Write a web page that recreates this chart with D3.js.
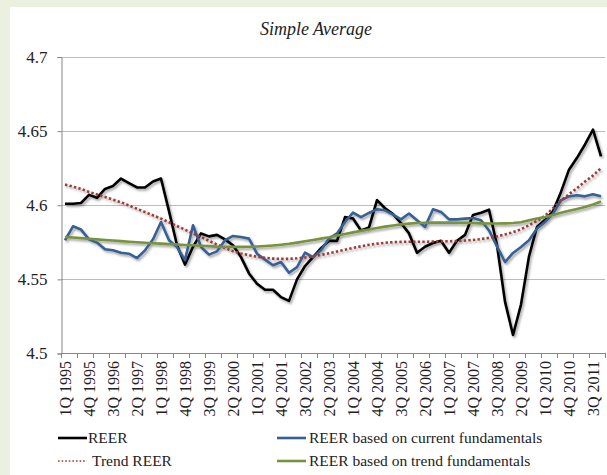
<!DOCTYPE html>
<html>
<head>
<meta charset="utf-8">
<script src="https://cdn.jsdelivr.net/npm/d3@7/dist/d3.min.js"></script>
</head>
<body style="margin:0;background:#ebf1de">
<script>
var quarters = [
	'1Q 1995','2Q 1995','3Q 1995','4Q 1995','1Q 1996','2Q 1996','3Q 1996','4Q 1996',
	'1Q 1997','2Q 1997','3Q 1997','4Q 1997','1Q 1998','2Q 1998','3Q 1998','4Q 1998',
	'1Q 1999','2Q 1999','3Q 1999','4Q 1999','1Q 2000','2Q 2000','3Q 2000','4Q 2000',
	'1Q 2001','2Q 2001','3Q 2001','4Q 2001','1Q 2002','2Q 2002','3Q 2002','4Q 2002',
	'1Q 2003','2Q 2003','3Q 2003','4Q 2003','1Q 2004','2Q 2004','3Q 2004','4Q 2004',
	'1Q 2005','2Q 2005','3Q 2005','4Q 2005','1Q 2006','2Q 2006','3Q 2006','4Q 2006',
	'1Q 2007','2Q 2007','3Q 2007','4Q 2007','1Q 2008','2Q 2008','3Q 2008','4Q 2008',
	'1Q 2009','2Q 2009','3Q 2009','4Q 2009','1Q 2010','2Q 2010','3Q 2010','4Q 2010',
	'1Q 2011','2Q 2011','3Q 2011','4Q 2011'];

var reer = [
	4.601,4.601,4.6015,4.607,4.605,4.611,4.613,4.618,
	4.615,4.612,4.612,4.616,4.618,4.596,4.573,4.560,
	4.572,4.581,4.579,4.580,4.577,4.573,4.565,4.554,
	4.547,4.543,4.543,4.538,4.5355,4.550,4.559,4.565,
	4.571,4.576,4.576,4.592,4.591,4.583,4.585,4.6035,
	4.598,4.594,4.588,4.581,4.568,4.572,4.5745,4.576,
	4.568,4.576,4.580,4.5935,4.595,4.597,4.573,4.535,
	4.5125,4.533,4.5655,4.5855,4.590,4.596,4.609,4.624,
	4.632,4.641,4.651,4.633];

var reerCurrent = [
	4.5764,4.5858,4.5836,4.577,4.5748,4.5703,4.5696,4.568,
	4.5673,4.5644,4.5696,4.577,4.5887,4.5764,4.5718,4.563,
	4.5865,4.5718,4.5667,4.5689,4.5764,4.5793,4.5786,4.5775,
	4.5673,4.5633,4.5595,4.5617,4.5545,4.5583,4.568,4.565,
	4.5696,4.5775,4.581,4.5887,4.595,4.592,4.5948,4.5973,
	4.5966,4.5937,4.5905,4.5944,4.5899,4.5854,4.5973,4.5955,
	4.5905,4.5905,4.591,4.5914,4.5899,4.583,4.5723,4.5617,
	4.5678,4.5718,4.5764,4.5843,4.5887,4.5944,4.6034,4.606,
	4.6068,4.606,4.6074,4.606];

var trendReer = [
	4.614,4.6125,4.611,4.609,4.6073,4.6056,4.6038,4.602,
	4.5998,4.5976,4.5954,4.5932,4.591,4.5885,4.586,4.5835,
	4.581,4.5786,4.576,4.5735,4.5712,4.569,4.5675,4.5663,
	4.5653,4.5645,4.564,4.5638,4.5638,4.5642,4.5648,4.5656,
	4.5665,4.5676,4.5688,4.570,4.5712,4.5723,4.5733,4.5741,
	4.5747,4.5751,4.5753,4.5754,4.5754,4.5754,4.5755,4.5756,
	4.5757,4.5759,4.5762,4.5766,4.5772,4.578,4.579,4.5803,
	4.5818,4.5838,4.5865,4.5895,4.5928,4.598,4.603,4.6075,
	4.6115,4.616,4.620,4.625];

var reerTrendFund = [
	4.5786,4.5782,4.5778,4.5774,4.577,4.5766,4.5762,4.5758,
	4.5754,4.575,4.5747,4.5744,4.5741,4.5738,4.5735,4.5732,
	4.573,4.5727,4.5724,4.5721,4.572,4.5719,4.5719,4.572,
	4.5722,4.5725,4.5729,4.5734,4.574,4.5748,4.5757,4.5766,
	4.5775,4.5784,4.5795,4.5806,4.5817,4.5827,4.5837,4.5847,
	4.5856,4.5864,4.5871,4.5876,4.588,4.5882,4.5883,4.5883,
	4.5883,4.5882,4.5881,4.588,4.5878,4.5877,4.5877,4.5878,
	4.588,4.5885,4.5899,4.591,4.592,4.5935,4.595,4.5963,
	4.5975,4.5988,4.6005,4.6025];

var yTicks = [4.5, 4.55, 4.6, 4.65, 4.7];
var seriesNames = ['REER','REER based on current fundamentals','Trend REER','REER based on trend fundamentals'];

var width = 607, height = 475;
var textFont = '"Liberation Serif"';

var svg = d3.select('body')
			.append('svg')
			.attr('width',width)
			.attr('height',height)
			.style('display','block');

var filter = svg.append('defs')
				.append('filter')
				.attr('id','shadow')
				.attr('x','-10%').attr('y','-10%')
				.attr('width','120%').attr('height','120%');
filter.append('feDropShadow')
		.attr('dx',1.5)
		.attr('dy',2)
		.attr('stdDeviation',1.3)
		.attr('flood-color','#000')
		.attr('flood-opacity',0.35);

// white chart panel on the green page
svg.append('rect')
	.attr('x',10)
	.attr('y',7)
	.attr('width',width-10)
	.attr('height',height-7)
	.attr('fill','#fff');

var x = d3.scaleBand()
			.domain(quarters)
			.range([61,605])
			.padding(0);

var y = d3.scaleLinear()
			.domain([4.5,4.7])
			.range([353.5,57]);

var cx = function(d,i){ return x(quarters[i]) + x.bandwidth()/2; };

// gridlines
svg.append('g')
	.selectAll('line')
	.data(yTicks.slice(1))
	.enter()
	.append('line')
	.attr('x1',61)
	.attr('x2',605)
	.attr('y1',(d)=>Math.round(y(d))+0.5)
	.attr('y2',(d)=>Math.round(y(d))+0.5)
	.attr('stroke','#bcbcbc')
	.attr('stroke-width',1);

// y axis
var yAxis = svg.append('g')
				.attr('transform','translate(61.5,0)')
				.call(d3.axisLeft(y).tickValues(yTicks).tickSize(4).tickPadding(10).tickFormat((d)=>String(d)));
yAxis.attr('font-family',null).attr('font-size',null);
yAxis.select('.domain').attr('stroke','#868686');
yAxis.selectAll('.tick line').attr('stroke','#868686');
yAxis.selectAll('text')
	.style('font-family',textFont)
	.style('font-size','17px')
	.attr('fill','#222');

// x axis line and tick marks (every 2 quarters)
svg.append('line')
	.attr('x1',61)
	.attr('x2',606)
	.attr('y1',353.5)
	.attr('y2',353.5)
	.attr('stroke','#868686');

var tickQuarters = quarters.filter((d,i)=>i%2===0);
svg.append('g')
	.selectAll('line')
	.data(tickQuarters.map((d)=>x(d)).concat([x.range()[1]]))
	.enter()
	.append('line')
	.attr('x1',(d)=>Math.round(d)+0.5)
	.attr('x2',(d)=>Math.round(d)+0.5)
	.attr('y1',353.5)
	.attr('y2',358)
	.attr('stroke','#868686');

// x labels (every 3 quarters)
var labelQuarters = quarters.filter((d,i)=>i%3===0);
svg.append('g')
	.selectAll('text')
	.data(labelQuarters)
	.enter()
	.append('text')
	.attr('transform',(d)=>'translate('+(x(d)+x.bandwidth()/2)+',361) rotate(-90)')
	.attr('text-anchor','end')
	.attr('dy','0.35em')
	.style('font-family',textFont)
	.style('font-size','16px')
	.attr('fill','#222')
	.text((d)=>d);

// title
svg.append('text')
	.attr('x',316)
	.attr('y',35)
	.attr('text-anchor','middle')
	.style('font-family',textFont)
	.style('font-size','18px')
	.style('font-style','italic')
	.attr('fill','#222')
	.text('Simple Average');

// series
var line = d3.line()
			.x(cx)
			.y((d)=>y(d));

var series = [
	{name:seriesNames[0], values:reer, color:'#000000', dash:null},
	{name:seriesNames[1], values:reerCurrent, color:'#376092', dash:null},
	{name:seriesNames[2], values:trendReer, color:'#9b3a3a', dash:'2.4,2.2'},
	{name:seriesNames[3], values:reerTrendFund, color:'#77933c', dash:null}
];

svg.append('g')
	.attr('filter','url(#shadow)')
	.selectAll('path')
	.data(series)
	.enter()
	.append('path')
	.attr('d',(d)=>line(d.values))
	.attr('fill','none')
	.attr('stroke',(d)=>d.color)
	.attr('stroke-width',2.6)
	.attr('stroke-linejoin','round')
	.attr('stroke-dasharray',(d)=>d.dash);

// legend
var legendPos = [
	{s:series[0], x:58, y:438, tx:88},
	{s:series[1], x:277, y:438, tx:309},
	{s:series[2], x:58, y:461, tx:92},
	{s:series[3], x:277, y:461, tx:309}
];

var legend = svg.append('g')
				.selectAll('g')
				.data(legendPos)
				.enter()
				.append('g');

legend.append('line')
	.attr('x1',(d)=>d.x)
	.attr('x2',(d)=>d.x+29)
	.attr('y1',(d)=>d.y)
	.attr('y2',(d)=>d.y)
	.attr('stroke',(d)=>d.s.color)
	.attr('stroke-width',(d)=>d.s.dash ? 1.6 : 2.6)
	.attr('stroke-dasharray',(d)=>d.s.dash ? '1.6,2' : null);

legend.append('text')
	.attr('x',(d)=>d.tx)
	.attr('y',(d)=>d.y+5)
	.style('font-family',textFont)
	.style('font-size','15.5px')
	.attr('fill','#222')
	.text((d)=>d.s.name);
</script>
</body>
</html>
